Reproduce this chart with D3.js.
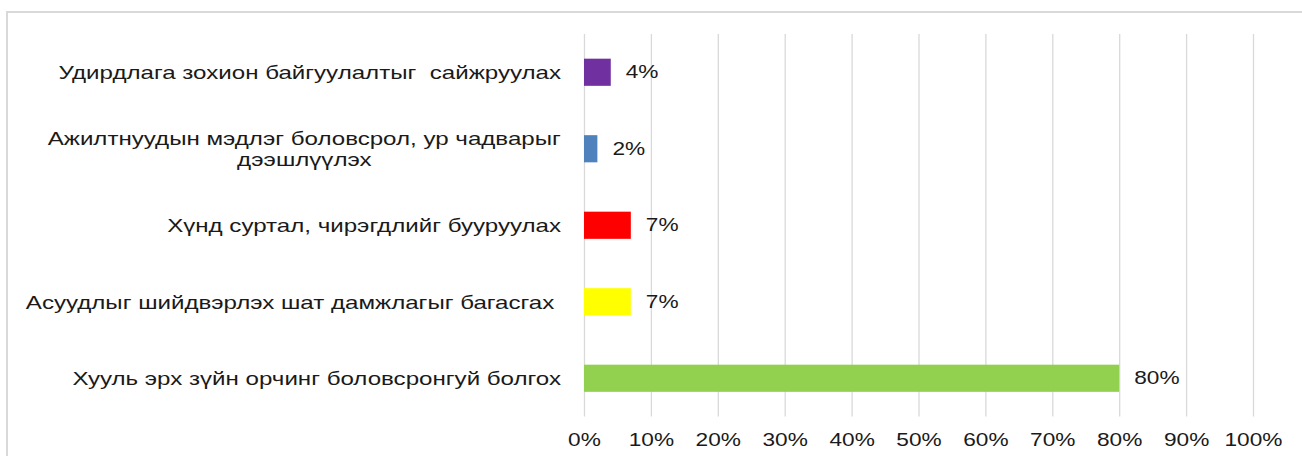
<!DOCTYPE html>
<html>
<head>
<meta charset="utf-8">
<script src="https://cdn.jsdelivr.net/npm/d3@7"></script>
<style>
  html, body { margin: 0; padding: 0; background: #fff; overflow: hidden; }
  svg { display: block; font-family: "Liberation Sans", Arial, sans-serif; }
  text { white-space: pre; fill: #1a1a1a; }
</style>
</head>
<body>
<svg id="chart" width="1302" height="456"></svg>
<script>
// categories, top to bottom ("\n" = line break in the label)
const categories = [
    "Удирдлага зохион байгуулалтыг  сайжруулах",
    "Ажилтнуудын мэдлэг боловсрол, ур чадварыг\nдээшлүүлэх",
    "Хүнд суртал, чирэгдлийг бууруулах",
    "Асуудлыг шийдвэрлэх шат дамжлагыг багасгах ",
    "Хууль эрх зүйн орчинг боловсронгуй болгох"
];
const values = [0.04, 0.02, 0.07, 0.07, 0.80];
const barColors = ["#7030a0", "#4f81bd", "#ff0000", "#ffff00", "#92d050"];
const tickValues = [0, 0.1, 0.2, 0.3, 0.4, 0.5, 0.6, 0.7, 0.8, 0.9, 1.0];

const svg = d3.select("#chart");
const fontSize = 18;
const sxNum = 1.26;   // numbers are stretched a little in the picture
const sxCat = 1.34;   // category labels a bit more

const margin = {top: 34, left: 584, right: 49, bottom: 40};
const width = 1302 - margin.left - margin.right;
const height = 456 - margin.top - margin.bottom + 0.5;

// outer frame (only top/left visible)
svg.append("rect")
    .attr("x", 7).attr("y", 12)
    .attr("width", 1320).attr("height", 480)
    .attr("fill", "none")
    .attr("stroke", "#d9d9d9")
    .attr("stroke-width", 2);

const g = svg.append("g").attr("transform", `translate(${margin.left},${margin.top})`);

const x = d3.scaleLinear().domain([0, 1]).range([0, width]);
const y = d3.scaleBand().domain(categories).range([0, height])
    .paddingInner(0.645).paddingOuter(0.3225);

// gridlines
g.append("g")
    .attr("class", "grid")
    .call(d3.axisBottom(x).tickValues(tickValues).tickSize(height).tickFormat(""))
    .call(s => s.select(".domain").remove())
    .call(s => s.selectAll("line").attr("stroke", "#d9d9d9").attr("stroke-width", 1.3));

// bars
g.selectAll("rect.bar")
    .data(values)
    .join("rect")
    .attr("class", "bar")
    .attr("x", x(0))
    .attr("y", (d, i) => y(categories[i]))
    .attr("width", d => x(d) - x(0))
    .attr("height", y.bandwidth())
    .attr("fill", (d, i) => barColors[i]);

// value labels
g.selectAll("text.val")
    .data(values)
    .join("text")
    .attr("class", "val")
    .attr("transform", (d, i) => `translate(${x(d) + 15},${y(categories[i]) + y.bandwidth() / 2 + 6}) scale(${sxNum},1)`)
    .style("font-size", fontSize + "px")
    .text(d => Math.round(d * 100) + "%");

// category labels
const labelRight = -23;
categories.forEach(c => {
    const lines = c.split("\n");
    const cy = y(c) + y.bandwidth() / 2;
    const lineH = 21;
    const top = cy - (lines.length - 1) * lineH / 2 + 7;
    const ts = lines.map((l, k) => g.append("text")
        .style("font-size", fontSize + "px")
        .text(l)
        .datum(top + k * lineH));
    if (lines.length === 1) {
        ts[0].attr("text-anchor", "end")
            .attr("transform", d => `translate(${labelRight},${d}) scale(${sxCat},1)`);
    } else {
        const maxW = d3.max(ts, t => t.node().getComputedTextLength()) * sxCat;
        const cx = labelRight - maxW / 2;
        ts.forEach(t => t.attr("text-anchor", "middle")
            .attr("transform", d => `translate(${cx},${d}) scale(${sxCat},1)`));
    }
});

// x axis tick labels
const ax = g.append("g")
    .attr("transform", `translate(0,${height})`)
    .call(d3.axisBottom(x).tickValues(tickValues).tickSize(0).tickFormat(d3.format(".0%")));
ax.select(".domain").remove();
ax.selectAll("text")
    .attr("y", 0).attr("dy", null)
    .attr("transform", `translate(0,${446 - margin.top - height}) scale(${sxNum},1)`)
    .style("font-size", fontSize + "px")
    .style("font-family", "\"Liberation Sans\", Arial, sans-serif")
    .attr("fill", "#1a1a1a");
</script>
</body>
</html>
